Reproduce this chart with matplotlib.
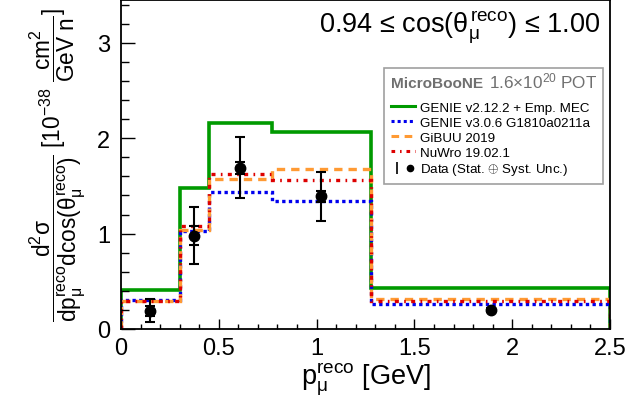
import numpy as np
import matplotlib
matplotlib.use("Agg")
import matplotlib.pyplot as plt
from matplotlib.lines import Line2D
from matplotlib.patches import Rectangle
from matplotlib.legend_handler import HandlerTuple

plt.rcParams['font.family'] = ['Liberation Sans', 'DejaVu Sans']
plt.rcParams['mathtext.fontset'] = 'custom'
plt.rcParams['mathtext.rm'] = 'Liberation Sans'
plt.rcParams['mathtext.it'] = 'Liberation Sans'
plt.rcParams['mathtext.bf'] = 'Liberation Sans:bold'

# бины по импульсу мюона
edges = [0.0, 0.30, 0.45, 0.77, 1.28, 2.5]

# предсказания генераторов
genie_v2 = [0.41, 1.48, 2.16, 2.07, 0.43]
genie_v3 = [0.30, 1.03, 1.44, 1.34, 0.26]
gibuu = [0.29, 1.04, 1.57, 1.68, 0.31]
nuwro = [0.29, 1.08, 1.63, 1.56, 0.29]

# данные
data_x = [0.148, 0.374, 0.61, 1.02, 1.89]
data_y = [0.19, 0.98, 1.69, 1.39, 0.20]
data_err_tot = [0.12, 0.30, 0.32, 0.26, 0.02]
data_err_stat = [0.05, 0.10, 0.06, 0.06, 0.01]

labels = ['GENIE v2.12.2 + Emp. MEC', 'GENIE v3.0.6 G1810a0211a',
          'GiBUU 2019', 'NuWro 19.02.1', r'Data (Stat. $\oplus$ Syst. Unc.)']

green = '#009a00'
blue = '#0000ee'
orange = '#ff9a33'
red = '#dd0000'

fig = plt.figure(figsize=(6.26, 4.06), dpi=100)
ax = fig.add_axes([121/626, 1 - 330/406, (610 - 121)/626, 329/406])

ax.stairs(genie_v2, edges, color=green, lw=2.6, baseline=0)
ax.stairs(genie_v3, edges, color=blue, lw=2.4, linestyle=(0, (1, 1)), baseline=0)
ax.stairs(gibuu, edges, color=orange, lw=2.4, linestyle=(0, (2.5, 1.8)), baseline=0)
ax.stairs(nuwro, edges, color=red, lw=2.4, linestyle=(0, (1.2, 1.6, 0.5, 1.6)), baseline=0)

ax.errorbar(data_x, data_y, yerr=data_err_tot, fmt='o', color='black', ms=7.5,
            elinewidth=1.5, capsize=3.5, capthick=1.5, zorder=5)
ax.errorbar(data_x, data_y, yerr=data_err_stat, fmt='none', ecolor='black',
            elinewidth=1.5, capsize=3.5, capthick=1.5, zorder=5)

ax.set_xlim(0, 2.5)
ax.set_ylim(0, 3.45)
ax.set_xticks([0, 0.5, 1, 1.5, 2, 2.5])
ax.set_xticklabels(['0', '0.5', '1', '1.5', '2', '2.5'])
ax.set_xticks(np.arange(0, 2.51, 0.1), minor=True)
ax.set_yticks([0, 1, 2, 3])
ax.set_yticks(np.arange(0, 3.45, 0.2), minor=True)
ax.tick_params(axis='both', which='both', direction='in', labelsize=17)
ax.tick_params(axis='x', which='major', length=7, width=1, pad=6)
ax.tick_params(axis='x', which='minor', length=3.5, width=1)
ax.tick_params(axis='y', which='major', length=10, width=1, pad=8)
ax.tick_params(axis='y', which='minor', length=6, width=1)
for s in ax.spines.values():
    s.set_linewidth(1.3)

ax.set_xlabel(r'p$_\mu^\mathrm{reco}$ [GeV]', fontsize=19.5, labelpad=1)
ax.set_ylabel(r'$\dfrac{\mathrm{d}^2\sigma}{\mathrm{dp}_\mu^\mathrm{reco}\mathrm{dcos}(\theta_\mu^\mathrm{reco})}$'
              r' [10$^{-38}$ $\dfrac{\mathrm{cm}^2}{\mathrm{GeV\ n}}$]', fontsize=16.3, labelpad=6)

fig.text(600/626, 1 - 33/406, r'0.94 ≤ cos($\theta_\mu^\mathrm{reco}$) ≤ 1.00',
         fontsize=19.5, ha='right', va='baseline')

# легенда
fig.patches.append(Rectangle((384/626, 1 - 185/406), (603 - 384)/626, 116/406,
                             transform=fig.transFigure, fill=True, facecolor='white',
                             edgecolor='#a0a0a0', lw=1.2, zorder=10))
fig.text(391/626, 1 - 88/406, 'MicroBooNE', fontsize=11.1, fontweight='bold',
         color='#707070', va='baseline', zorder=11)
fig.text(597/626, 1 - 88/406, r'1.6$\times$10$^{20}$ POT', fontsize=12.3,
         color='#707070', va='baseline', ha='right', zorder=11)

handles = [
    Line2D([], [], color=green, lw=2.2),
    Line2D([], [], color=blue, lw=2.2, linestyle=(0, (1, 1))),
    Line2D([], [], color=orange, lw=2.2, linestyle=(0, (2.5, 1.8))),
    Line2D([], [], color=red, lw=2.2, linestyle=(0, (1.2, 1.6, 0.5, 1.6))),
    (Line2D([], [], color='black', marker='|', ms=9, mew=1.2, linestyle='none'),
     Line2D([], [], color='black', marker='o', ms=4.5, linestyle='none')),
]
leg = fig.legend(handles, labels, loc='upper left',
                 bbox_to_anchor=(382/626, 1 - 93/406), frameon=False,
                 fontsize=9.6, handlelength=1.8, handletextpad=0.35,
                 labelspacing=0.2, borderpad=0.2,
                 handler_map={tuple: HandlerTuple(ndivide=None)})
leg.set_zorder(12)

fig.savefig('out.png', dpi=100)
